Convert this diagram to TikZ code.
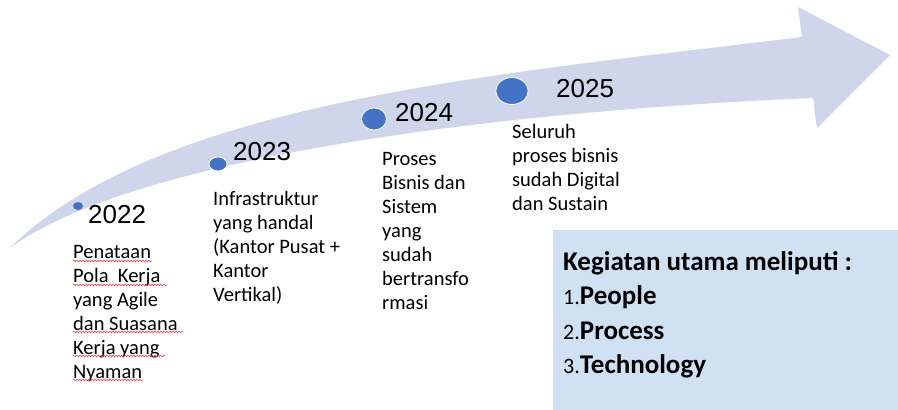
\documentclass[tikz,border=0pt]{standalone}
\usepackage{fontspec}
\setmainfont{Carlito}
\newfontfamily\yearfont{Liberation Sans}
\usetikzlibrary{shapes.geometric,decorations.pathmorphing}

\definecolor{bandlilac}{HTML}{CFD5EA}
\definecolor{dotblue}{HTML}{4472C4}
\definecolor{panelblue}{HTML}{D0E1F3}

% small list numbers in front of the bold items
\newcommand\listnum[1]{{\fontsize{22}{34.5}\selectfont #1.}}

\begin{document}
\begin{tikzpicture}[x=1pt,y=-1pt,
  dot/.style={draw=white,line width=0.8pt,fill=dotblue,ellipse,inner sep=0},
  year/.style={anchor=base west,inner sep=0,font=\yearfont\fontsize{26}{30}\selectfont},
  desc/.style={anchor=north west,inner sep=0,align=left,font=\fontsize{20.5}{24}\selectfont},
  squiggle/.style={draw=red!80,line width=0.5pt,decorate,decoration={snake,amplitude=0.9pt,segment length=3pt}}]
\useasboundingbox (0,0) rectangle (898,410);

% curved band ending in the arrow head
\fill[bandlilac] (10,248) .. controls (160,100) and (502,74) .. (802,37)
  -- (798,7) -- (890,55) -- (817,128) -- (813,98)
  .. controls (480,112) and (130,160) .. (10,248) -- cycle;

% milestones
\node[dot,draw=none,minimum width=10,minimum height=8] (d22) at (78,206) {};
\node[dot,minimum width=18,minimum height=14] (d23) at (218,164) {};
\node[dot,minimum width=25,minimum height=22] (d24) at (374,119) {};
\node[dot,minimum width=32,minimum height=27] (d25) at (512,91) {};

\node[year] (y22) at (88,223) {2022};
\node[year] (y23) at (233,160) {2023};
\node[year] (y24) at (395,121) {2024};
\node[year] (y25) at (556,97) {2025};

\node[desc] (t22) at (73,245) {Penataan\\Pola\ \ Kerja\\yang Agile\\dan Suasana\\Kerja yang\\Nyaman};
\node[desc] (t23) at (213,191) {Infrastruktur\\yang handal\\(Kantor Pusat +\\Kantor\\Vertikal)};
\node[desc] (t24) at (382,152) {Proses\\Bisnis dan\\Sistem\\yang\\sudah\\bertransfo\\rmasi};
\node[desc] (t25) at (512,124) {Seluruh\\proses bisnis\\sudah Digital\\dan Sustain};

% spelling marks
\draw[squiggle] (73,261) -- (152,261);
\draw[squiggle] (73,285) -- (167,285);
\draw[squiggle] (73,332) -- (183,332);
\draw[squiggle] (73,356) -- (165,356);
\draw[squiggle] (73,380) -- (143,380);

% main activities
\node[fill=panelblue,anchor=north west,minimum width=345,minimum height=180,inner sep=0] (panel) at (553,230) {};
\node[anchor=north west,inner sep=0,align=left,font=\fontsize{27}{34.5}\selectfont] (goals) at (563,251)
  {\textbf{Kegiatan utama meliputi :}\\\listnum{1}\textbf{People}\\\listnum{2}\textbf{Process}\\\listnum{3}\textbf{Technology}};
\end{tikzpicture}
\end{document}
